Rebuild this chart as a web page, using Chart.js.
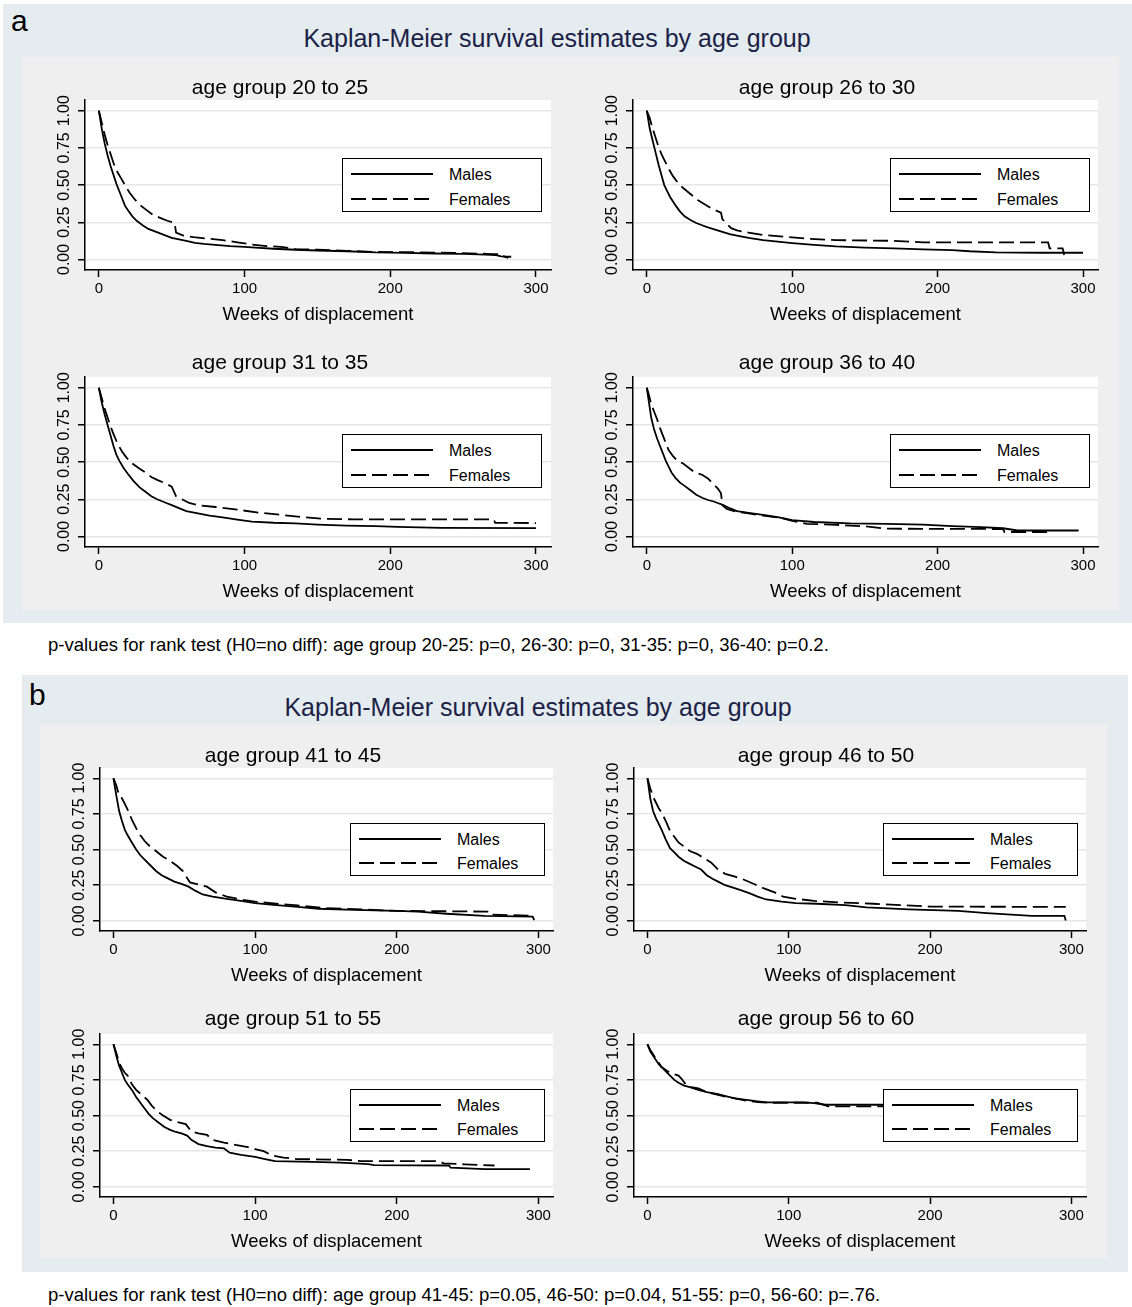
<!DOCTYPE html>
<html>
<head>
<meta charset="utf-8">
<script src="https://cdn.jsdelivr.net/npm/chart.js@4.4.1/dist/chart.umd.min.js"></script>
<style>
  body { margin: 0; background: #fff; font-family: 'Liberation Sans', Arial, sans-serif; }
  #page { position: relative; width: 1132px; height: 1307px; overflow: hidden; }
  .abs { position: absolute; }
  .outer { background: #e5ecef; }
  .inner { background: #efefef; }
  .main { color: #1c2147; font-size: 25px; white-space: nowrap; transform: translate(-50%, -50%); }
  .sub { font-size: 21px; white-space: nowrap; transform: translate(-50%, -50%); }
  .tag { font-size: 30px; line-height: 1; }
  .note { font-size: 18.5px; white-space: nowrap; transform: translateY(-50%); }
  .leg { background: #fff; border: 1.5px solid #000; box-sizing: border-box; }
  canvas { position: absolute; }
</style>
</head>
<body>
<div id="page">
  <div class="abs outer" style="left:3px;top:4px;width:1129px;height:619px"></div>
  <div class="abs inner" style="left:22px;top:57px;width:1097px;height:553px"></div>
  <div class="abs tag" style="left:11px;top:6px">a</div>
  <div class="abs main" style="left:557px;top:38px">Kaplan-Meier survival estimates by age group</div>
  <div class="abs note" style="left:48px;top:645px">p-values for rank test (H0=no diff): age group 20-25: p=0, 26-30: p=0, 31-35: p=0, 36-40: p=0.2.</div>

  <div class="abs outer" style="left:22px;top:675px;width:1106px;height:597px"></div>
  <div class="abs inner" style="left:40px;top:725px;width:1067px;height:533px"></div>
  <div class="abs tag" style="left:29px;top:680px">b</div>
  <div class="abs main" style="left:538px;top:707px">Kaplan-Meier survival estimates by age group</div>
  <div class="abs note" style="left:48px;top:1295px">p-values for rank test (H0=no diff): age group 41-45: p=0.05, 46-50: p=0.04, 51-55: p=0, 56-60: p=.76.</div>
</div>

<script>
// ---- ticks / labels ----
const weekTicks = [0, 100, 200, 300];
const survTicks = [0, 0.25, 0.5, 0.75, 1];
const seriesNames = ['Males', 'Females'];
const xTitle = 'Weeks of displacement';

// ---- KM curves, [week, survival] ----
const m20_25 = [[0,1],[2,.88],[4,.78],[6,.70],[8,.63],[10,.57],[12,.51],[14,.46],[16,.41],[18,.36],[20,.33],[23,.29],[26,.26],[30,.23],[34,.205],[38,.19],[42,.175],[46,.16],[50,.145],[55,.135],[60,.125],[66,.112],[72,.105],[80,.098],[90,.09],[100,.085],[110,.078],[120,.072],[135,.065],[150,.06],[170,.055],[190,.047],[210,.044],[230,.04],[250,.037],[265,.033],[272,.03],[276,.02],[283,.018]];
const f20_25 = [[0,1],[2,.92],[4,.84],[6,.77],[8,.71],[10,.65],[12,.60],[15,.55],[18,.50],[21,.45],[25,.40],[29,.36],[33,.33],[37,.30],[42,.28],[47,.26],[52,.245],[53,.18],[58,.16],[65,.15],[75,.14],[85,.13],[95,.115],[105,.10],[115,.09],[125,.085],[135,.07],[150,.065],[170,.058],[190,.05],[220,.048],[250,.043],[270,.036],[277,.035],[278,.02],[281,.01]];

const m26_30 = [[0,1],[2,.88],[4,.80],[6,.72],[8,.64],[10,.57],[12,.50],[14,.46],[16,.42],[18,.39],[20,.36],[23,.32],[26,.29],[30,.265],[34,.245],[38,.23],[42,.215],[47,.20],[52,.185],[57,.17],[62,.16],[70,.145],[80,.13],[90,.12],[100,.11],[115,.098],[130,.088],[150,.08],[170,.075],[190,.068],[210,.063],[222,.055],[240,.048],[270,.045],[300,.045]];
const f26_30 = [[0,1],[2,.95],[4,.88],[6,.82],[8,.76],[10,.71],[12,.67],[15,.61],[18,.56],[21,.52],[25,.48],[30,.44],[35,.40],[40,.37],[45,.34],[51,.315],[52,.27],[55,.24],[58,.21],[62,.195],[70,.18],[80,.165],[95,.152],[110,.14],[130,.13],[170,.125],[190,.115],[276,.115],[277,.075],[286,.075],[287,.03]];

const m31_35 = [[0,1],[2,.90],[4,.82],[6,.75],[8,.68],[10,.61],[12,.55],[14,.51],[17,.46],[20,.42],[24,.37],[28,.33],[32,.30],[36,.27],[40,.25],[45,.23],[50,.21],[55,.19],[60,.17],[68,.155],[76,.14],[85,.128],[95,.113],[105,.10],[120,.092],[135,.088],[150,.08],[170,.073],[190,.07],[205,.064],[235,.058],[300,.056]];
const f31_35 = [[0,1],[2,.93],[4,.86],[6,.80],[8,.74],[10,.69],[13,.62],[16,.57],[19,.53],[23,.49],[28,.455],[32,.43],[36,.40],[40,.38],[45,.36],[50,.335],[53,.27],[57,.25],[62,.225],[68,.21],[80,.198],[95,.18],[110,.16],[125,.145],[140,.13],[155,.118],[175,.115],[271,.115],[272,.092],[300,.09]];

const m36_40 = [[0,1],[1.5,.90],[3,.80],[5,.72],[7,.66],[9,.61],[11,.56],[13,.51],[15,.47],[17,.43],[20,.39],[23,.36],[26,.34],[30,.31],[34,.28],[38,.26],[42,.245],[46,.235],[50,.22],[53,.21],[57,.19],[62,.17],[70,.158],[80,.145],[90,.13],[100,.11],[115,.097],[140,.088],[165,.085],[190,.08],[210,.07],[230,.062],[245,.055],[255,.04],[297,.04]];
const f36_40 = [[0,1],[1.5,.95],[3,.89],[5,.84],[7,.79],[9,.73],[11,.68],[13,.63],[15,.58],[18,.54],[21,.51],[25,.49],[29,.46],[33,.43],[38,.415],[42,.39],[46,.35],[49,.32],[51,.29],[52,.21],[55,.185],[60,.17],[70,.155],[80,.14],[92,.125],[100,.105],[110,.085],[130,.078],[150,.068],[165,.052],[245,.05],[246,.03],[278,.03]];

const m41_45 = [[0,1],[2,.88],[4,.77],[6,.70],[8,.64],[10,.60],[13,.55],[16,.50],[19,.46],[22,.43],[26,.39],[30,.35],[34,.32],[38,.30],[43,.275],[48,.26],[53,.24],[58,.21],[63,.185],[70,.17],[80,.155],[90,.14],[100,.125],[115,.11],[130,.098],[145,.085],[170,.077],[200,.07],[215,.065],[235,.05],[262,.035],[296,.03],[297,.005]];
const f41_45 = [[0,1],[2,.95],[4,.88],[6,.86],[8,.82],[10,.78],[13,.71],[16,.65],[19,.60],[22,.56],[26,.52],[30,.49],[35,.45],[40,.42],[45,.385],[49,.35],[52,.30],[54,.27],[60,.255],[66,.24],[72,.20],[80,.17],[90,.15],[100,.135],[115,.12],[130,.108],[150,.09],[175,.08],[200,.07],[230,.068],[264,.065],[265,.045],[297,.035]];

const m46_50 = [[0,1],[2,.86],[4,.77],[6,.72],[8,.68],[10,.64],[13,.57],[16,.51],[19,.48],[22,.45],[26,.42],[30,.40],[34,.38],[38,.36],[42,.32],[46,.295],[50,.275],[55,.25],[60,.235],[66,.215],[72,.195],[78,.17],[84,.15],[95,.135],[105,.125],[120,.12],[140,.11],[155,.095],[185,.08],[220,.07],[240,.055],[272,.035],[295,.035],[296,.003]];
const f46_50 = [[0,1],[2,.93],[4,.87],[6,.83],[8,.79],[10,.76],[13,.70],[16,.63],[19,.59],[22,.55],[26,.52],[30,.49],[35,.47],[40,.44],[45,.41],[50,.36],[55,.33],[62,.31],[68,.29],[75,.26],[82,.23],[90,.20],[96,.17],[105,.155],[118,.14],[135,.13],[160,.12],[180,.11],[200,.10],[296,.098]];

const m51_55 = [[0,1],[2,.92],[4,.85],[6,.80],[8,.75],[10,.72],[13,.68],[16,.63],[19,.59],[22,.55],[25,.51],[28,.48],[32,.45],[36,.42],[40,.40],[44,.385],[48,.375],[52,.36],[55,.33],[60,.30],[66,.285],[72,.275],[78,.27],[82,.24],[90,.225],[100,.21],[107,.195],[114,.18],[140,.175],[160,.17],[180,.16],[184,.152],[237,.15],[238,.135],[262,.125],[294,.125]];
const f51_55 = [[0,1],[2,.94],[4,.87],[6,.83],[8,.80],[10,.78],[13,.72],[16,.68],[20,.645],[24,.61],[27,.57],[31,.53],[35,.50],[40,.47],[45,.455],[51,.44],[55,.39],[60,.375],[66,.365],[70,.33],[78,.31],[86,.295],[94,.28],[100,.265],[106,.25],[112,.22],[120,.205],[130,.195],[165,.19],[175,.18],[230,.18],[233,.165],[248,.158],[269,.15]];

const m56_60 = [[0,1],[2,.95],[4,.92],[6,.89],[8,.86],[10,.84],[13,.81],[16,.78],[19,.75],[22,.73],[26,.71],[30,.70],[36,.68],[42,.665],[50,.65],[56,.635],[62,.62],[70,.61],[78,.60],[85,.592],[110,.592],[118,.588],[126,.576],[170,.576],[280,.57]];
const f56_60 = [[0,1],[2,.96],[4,.93],[6,.90],[8,.87],[10,.84],[13,.82],[16,.80],[19,.79],[22,.78],[24,.76],[27,.72],[31,.70],[36,.69],[42,.665],[50,.645],[56,.63],[62,.62],[70,.605],[78,.595],[85,.59],[120,.59],[128,.565],[170,.565],[280,.56]];

// ---- layout (page px) ----
const FONT = "'Liberation Sans', Arial, sans-serif";
const ML = 60, MT = 14, MR = 14, MB = 75;
const X_MIN = -9.5, X_MAX = 310.3, Y_MIN = -0.071, Y_MAX = 1.072;

const panels = [
  { title: 'age group 20 to 25', m: m20_25, f: f20_25, plot: [85, 100, 551, 270], head: [280, 87], leg: [342, 158, 542, 212] },
  { title: 'age group 26 to 30', m: m26_30, f: f26_30, plot: [633, 100, 1098, 270], head: [827, 87], leg: [890, 158, 1090, 212] },
  { title: 'age group 31 to 35', m: m31_35, f: f31_35, plot: [85, 377, 551, 547], head: [280, 362], leg: [342, 434, 542, 488] },
  { title: 'age group 36 to 40', m: m36_40, f: f36_40, plot: [633, 377, 1098, 547], head: [827, 362], leg: [890, 434, 1090, 488] },
  { title: 'age group 41 to 45', m: m41_45, f: f41_45, plot: [100, 768, 553, 931], head: [293, 755], leg: [350, 823, 545, 876] },
  { title: 'age group 46 to 50', m: m46_50, f: f46_50, plot: [634, 768, 1086, 931], head: [826, 755], leg: [883, 823, 1078, 876] },
  { title: 'age group 51 to 55', m: m51_55, f: f51_55, plot: [100, 1034, 553, 1197], head: [293, 1018], leg: [350, 1089, 545, 1142] },
  { title: 'age group 56 to 60', m: m56_60, f: f56_60, plot: [634, 1034, 1086, 1197], head: [826, 1018], leg: [883, 1089, 1078, 1142] }
];

const page = document.getElementById('page');

const whitePlot = {
  id: 'whitePlot',
  beforeDraw(chart) {
    const a = chart.chartArea, ctx = chart.ctx;
    ctx.save();
    ctx.fillStyle = '#fff';
    ctx.fillRect(a.left, a.top, a.right - a.left, a.bottom - a.top);
    ctx.restore();
  }
};

const toPts = arr => arr.map(([x, y]) => ({ x, y }));

function drawPanel(p) {
  const [L, T, R, B] = p.plot;
  const cv = document.createElement('canvas');
  cv.width = (R - L) + ML + MR;
  cv.height = (B - T) + MT + MB;
  cv.style.left = (L - ML) + 'px';
  cv.style.top = (T - MT) + 'px';
  page.appendChild(cv);

  new Chart(cv, {
    type: 'line',
    data: {
      datasets: [
        { label: seriesNames[0], data: toPts(p.m), borderColor: '#000', borderWidth: 1.8, pointRadius: 0, tension: 0, fill: false },
        { label: seriesNames[1], data: toPts(p.f), borderColor: '#000', borderWidth: 1.8, borderDash: [15, 6], pointRadius: 0, tension: 0, fill: false }
      ]
    },
    options: {
      responsive: false, animation: false, events: [],
      layout: { padding: { left: 0, top: MT, right: MR, bottom: 0 } },
      plugins: { legend: { display: false }, tooltip: { enabled: false } },
      scales: {
        x: {
          type: 'linear', min: X_MIN, max: X_MAX,
          afterBuildTicks: s => { s.ticks = weekTicks.map(v => ({ value: v })); },
          afterFit: s => { s.height = MB; },
          ticks: { color: '#000', font: { size: 15, family: FONT }, padding: 3, maxRotation: 0, autoSkip: false },
          grid: { drawOnChartArea: false, tickLength: 7, tickColor: '#000', tickWidth: 1.5 },
          border: { color: '#000', width: 1.5 },
          title: { display: true, text: xTitle, color: '#000', font: { size: 18.5, family: FONT }, padding: { top: 0, bottom: 19 } }
        },
        y: {
          type: 'linear', min: Y_MIN, max: Y_MAX,
          afterBuildTicks: s => { s.ticks = survTicks.map(v => ({ value: v })); },
          afterFit: s => { s.width = ML; },
          ticks: { color: '#000', font: { size: 16, family: FONT }, minRotation: 90, maxRotation: 90, crossAlign: 'center', padding: -2, autoSkip: false, callback: v => v.toFixed(2) },
          grid: { color: '#e6e6e6', lineWidth: 1.5, tickLength: 7, tickColor: '#000', tickWidth: 1.5 },
          border: { color: '#000', width: 1.5 }
        }
      }
    },
    plugins: [whitePlot]
  });

  // subplot title
  const h = document.createElement('div');
  h.className = 'abs sub';
  h.style.left = p.head[0] + 'px';
  h.style.top = p.head[1] + 'px';
  h.textContent = p.title;
  page.appendChild(h);

  // legend box inside the plot
  const [l, t, r, b] = p.leg;
  const w = r - l, hh = b - t;
  const lg = document.createElement('div');
  lg.className = 'abs leg';
  lg.style.cssText += `left:${l}px;top:${t}px;width:${w}px;height:${hh}px`;
  const y1 = Math.round(hh * 0.28), y2 = Math.round(hh * 0.74);
  lg.innerHTML =
    `<svg width="${w - 3}" height="${hh - 3}" style="position:absolute;left:0;top:0">` +
    `<line x1="8" y1="${y1}" x2="90" y2="${y1}" stroke="#000" stroke-width="1.8"/>` +
    `<line x1="8" y1="${y2}" x2="90" y2="${y2}" stroke="#000" stroke-width="1.8" stroke-dasharray="15 6"/>` +
    `<text x="106" y="${y1}" dominant-baseline="central" font-size="16" font-family="${FONT.replace(/'/g, '')}">${seriesNames[0]}</text>` +
    `<text x="106" y="${y2}" dominant-baseline="central" font-size="16" font-family="${FONT.replace(/'/g, '')}">${seriesNames[1]}</text>` +
    `</svg>`;
  page.appendChild(lg);
}

panels.forEach(drawPanel);
</script>
</body>
</html>
